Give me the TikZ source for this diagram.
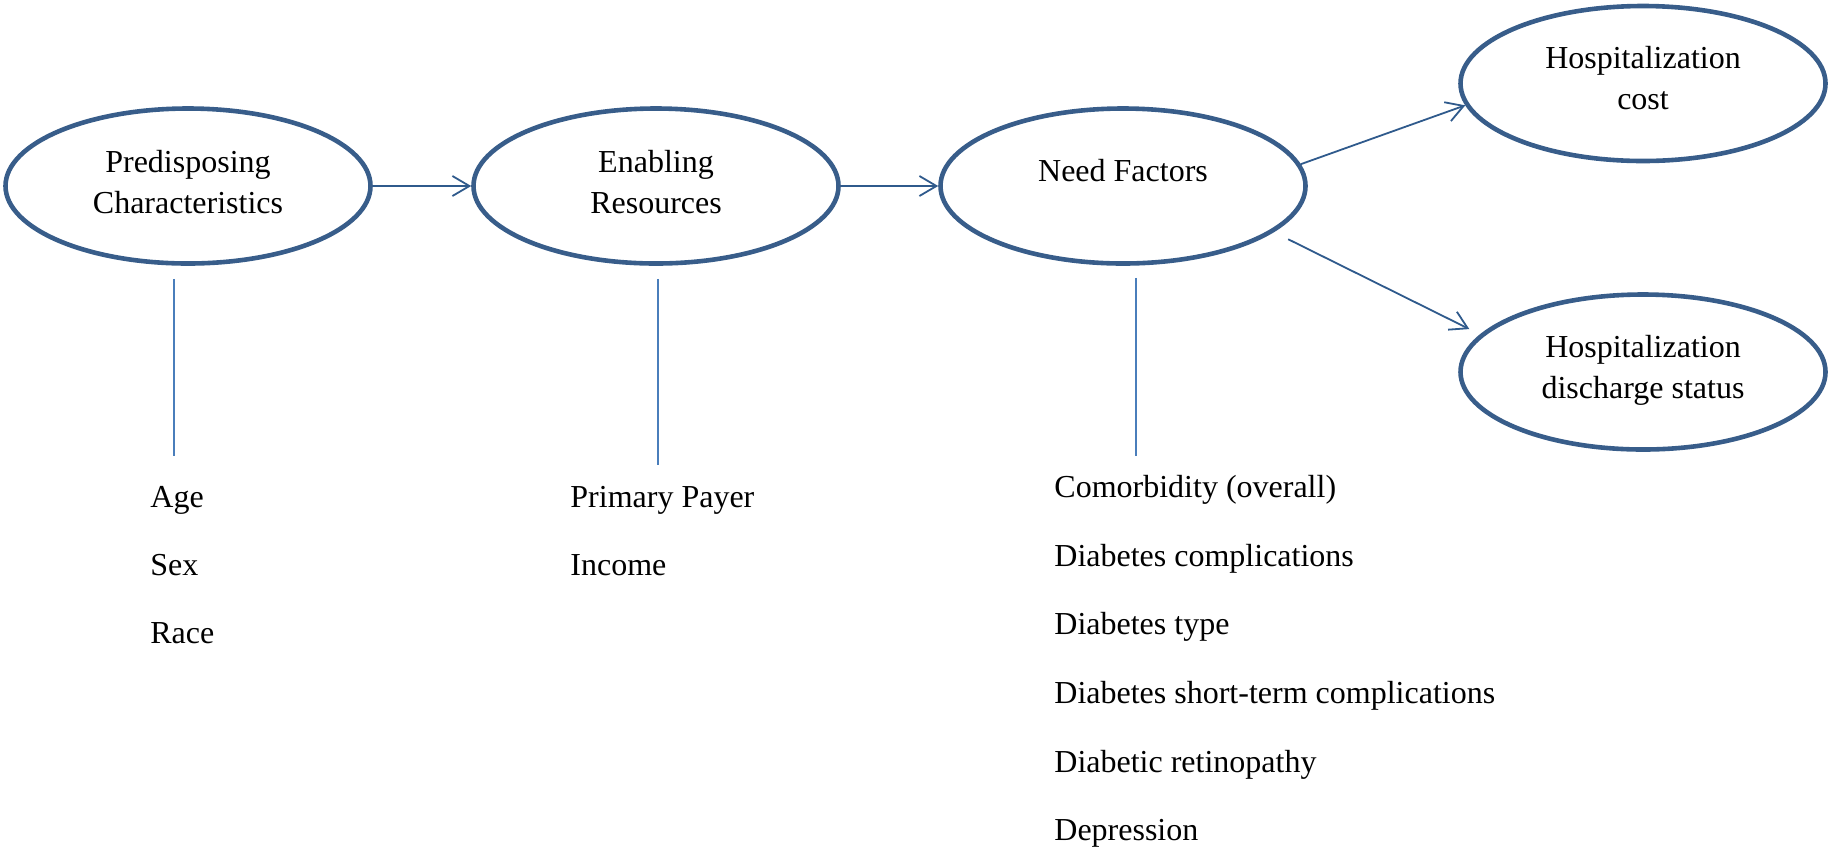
\documentclass[tikz,border=0pt]{standalone}
\usepackage{fontspec}
\setmainfont{Liberation Serif}
\usetikzlibrary{shapes.geometric,arrows.meta,calc}
\definecolor{ovalblue}{HTML}{385D8A}
\definecolor{arrowblue}{HTML}{2F5A8C}
\definecolor{lineblue}{HTML}{4A7EBB}
\tikzset{
  oval/.style={ellipse, draw=ovalblue, line width=2.3pt, minimum width=182.5pt, minimum height=77.5pt, inner sep=0pt},
  lbl/.style={inner sep=0pt, align=center, font=\fontsize{16}{20.5}\selectfont},
  item/.style={inner sep=0pt, anchor=base west, font=\fontsize{16}{20.5}\selectfont},
  flow/.style={draw=arrowblue, line width=0.9pt, -{Straight Barb[length=8.5pt,width=10pt]}},
  vline/.style={draw=lineblue, line width=0.75pt}
}
\begin{document}
\begin{tikzpicture}[x=0.5pt, y=-0.5pt]
\useasboundingbox (0,0) rectangle (1829,848);
% ellipses
\node[oval] (e1) at (188,186) {};
\node[oval] (e2) at (656,186) {};
\node[oval] (e3) at (1123,186) {};
\node[oval] (e4) at (1643,83.5) {};
\node[oval] (e5) at (1643,372) {};
% ellipse texts
\node[lbl] (t1) at (188,181.6) {Predisposing\\Characteristics};
\node[lbl] (t2) at (656,181.6) {Enabling\\Resources};
\node[lbl] (t3) at (1123,171) {Need Factors};
\node[lbl] (t4) at (1643,77.6) {Hospitalization\\cost};
\node[lbl] (t5) at (1643,370) {Hospitalization\\discharge status};
% arrows
\draw[flow] (e1.east) -- (e2.west);
\draw[flow] (e2.east) -- (e3.west);
\draw[flow] (e3.7) -- (e4.187);
\draw[flow, shorten <=8pt, shorten >=6pt] (e3.-17) -- (e5.167);
% vertical lines
\coordinate (v1) at (174,456);
\coordinate (v2) at (658,465);
\coordinate (v3) at (1136,456);
\draw[vline] ($(e1.south -| v1)+(0,-6.5pt)$) -- (v1);
\draw[vline] ($(e2.south -| v2)+(0,-6.5pt)$) -- (v2);
\draw[vline] ($(e3.south -| v3)+(0,-6pt)$) -- (v3);
% lists
\node[item] (age) at (150,507) {Age};
\node[item] (sex) at (150,575) {Sex};
\node[item] (race) at (150,643) {Race};
\node[item] (payer) at (570,507) {Primary Payer};
\node[item] (income) at (570,575) {Income};
\node[item] (n1) at (1054,497) {Comorbidity (overall)};
\node[item] (n2) at (1054,566) {Diabetes complications};
\node[item] (n3) at (1054,634) {Diabetes type};
\node[item] (n4) at (1054,703) {Diabetes short-term complications};
\node[item] (n5) at (1054,772) {Diabetic retinopathy};
\node[item] (n6) at (1054,840) {Depression};
\end{tikzpicture}
\end{document}
